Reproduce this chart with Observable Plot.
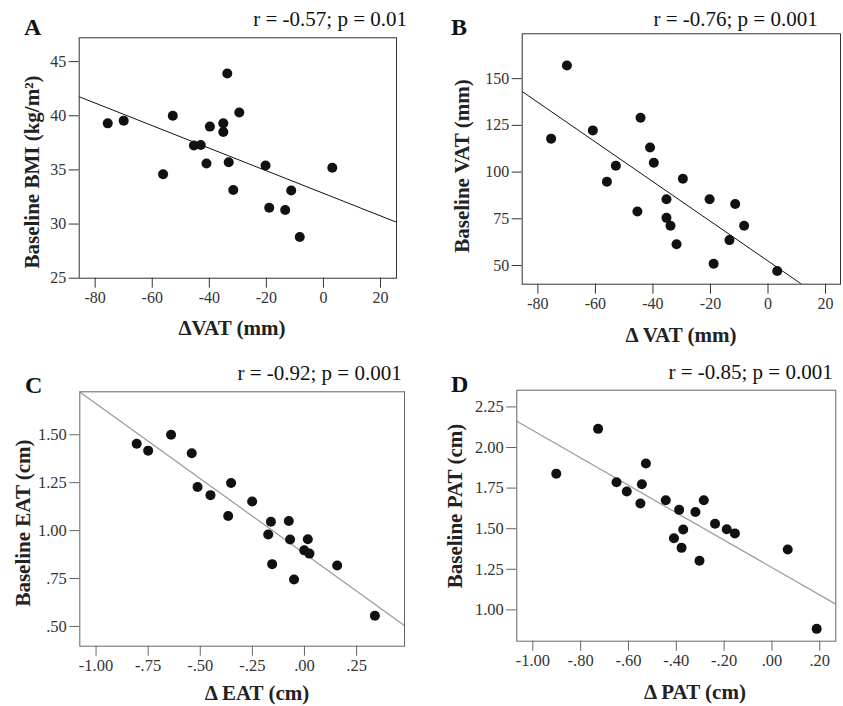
<!DOCTYPE html>
<html>
<head>
<meta charset="utf-8">
<script src="https://cdn.jsdelivr.net/npm/d3@7"></script>
<script src="https://cdn.jsdelivr.net/npm/@observablehq/plot@0.6"></script>
<style>
  html, body { margin: 0; padding: 0; background: #fff; }
  #root { position: relative; width: 843px; height: 706px; overflow: hidden; background: #fff; }
  .panel { position: absolute; }
  #overlay { position: absolute; left: 0; top: 0; pointer-events: none; }
</style>
</head>
<body>
<div id="root"></div>
<script>
// ---------- Data ----------
// Panel A: ΔVAT vs Baseline BMI
const aDeltaVAT = [-75.6, -70.0, -52.8, -56.2, -45.4, -43.0, -39.8, -41.0, -35.1, -35.1, -33.7, -33.2, -31.6, -29.5, -20.3, -19.0, -13.4, -11.3, -8.3, 3.1];
const aBaselineBMI = [39.3, 39.55, 40.0, 34.6, 37.25, 37.3, 39.0, 35.6, 39.3, 38.5, 43.9, 35.7, 33.15, 40.3, 35.4, 31.5, 31.3, 33.1, 28.8, 35.2];
const aXTicks = [-80, -60, -40, -20, 0, 20];
const aXTickLabels = ["-80", "-60", "-40", "-20", "0", "20"];
const aYTicks = [25, 30, 35, 40, 45];
const aYTickLabels = ["25", "30", "35", "40", "45"];

// Panel B: ΔVAT vs Baseline VAT
const bDeltaVAT = [-69.9, -75.4, -60.9, -44.3, -52.9, -56.0, -45.4, -41.0, -39.7, -35.3, -35.3, -33.9, -31.8, -29.6, -20.3, -18.9, -13.4, -11.4, -8.3, 3.2];
const bBaselineVAT = [157, 117.9, 122.3, 129.1, 103.4, 94.8, 78.9, 113.2, 105, 85.5, 75.5, 71.3, 61.4, 96.4, 85.5, 50.9, 63.6, 82.9, 71.3, 47.1];
const bXTicks = [-80, -60, -40, -20, 0, 20];
const bXTickLabels = ["-80", "-60", "-40", "-20", "0", "20"];
const bYTicks = [50, 75, 100, 125, 150];
const bYTickLabels = ["50", "75", "100", "125", "150"];

// Panel C: ΔEAT vs Baseline EAT
const cDeltaEAT = [-0.805, -0.750, -0.640, -0.541, -0.513, -0.451, -0.352, -0.366, -0.251, -0.161, -0.174, -0.155, -0.075, -0.069, -0.050, -0.001, 0.016, 0.024, 0.157, 0.338];
const cBaselineEAT = [1.453, 1.417, 1.500, 1.403, 1.227, 1.185, 1.248, 1.076, 1.152, 1.046, 0.980, 0.825, 1.050, 0.954, 0.745, 0.897, 0.955, 0.880, 0.818, 0.556];
const cXTicks = [-1.00, -0.75, -0.50, -0.25, 0.00, 0.25];
const cXTickLabels = ["-1.00", "-.75", "-.50", "-.25", ".00", ".25"];
const cYTicks = [0.50, 0.75, 1.00, 1.25, 1.50];
const cYTickLabels = [".50", ".75", "1.00", "1.25", "1.50"];

// Panel D: ΔPAT vs Baseline PAT
const dDeltaPAT = [-0.902, -0.727, -0.650, -0.607, -0.544, -0.550, -0.527, -0.444, -0.388, -0.410, -0.371, -0.378, -0.320, -0.285, -0.303, -0.238, -0.189, -0.155, 0.066, 0.187];
const dBaselinePAT = [1.839, 2.115, 1.786, 1.729, 1.774, 1.655, 1.901, 1.675, 1.616, 1.441, 1.495, 1.382, 1.603, 1.675, 1.302, 1.530, 1.497, 1.471, 1.372, 0.883];
const dXTicks = [-1.00, -0.80, -0.60, -0.40, -0.20, 0.00, 0.20];
const dXTickLabels = ["-1.00", "-.80", "-.60", "-.40", "-.20", ".00", ".20"];
const dYTicks = [1.00, 1.25, 1.50, 1.75, 2.00, 2.25];
const dYTickLabels = ["1.00", "1.25", "1.50", "1.75", "2.00", "2.25"];

// Text
const panelLetters = ["A", "B", "C", "D"];
const statTexts = ["r = -0.57; p = 0.01", "r = -0.76; p = 0.001", "r = -0.92; p = 0.001", "r = -0.85; p = 0.001"];
const yTitles = ["Baseline BMI (kg/m²)", "Baseline VAT (mm)", "Baseline EAT (cm)", "Baseline PAT (cm)"];
const xTitles = ["ΔVAT (mm)", "Δ VAT (mm)", "Δ EAT (cm)", "Δ PAT (cm)"];

// ---------- Layout ----------
const FONT = "'Liberation Serif', 'Times New Roman', serif";
const panels = [
  { left: 0, top: 0, width: 421, height: 353, ml: 78.7, mr: 25, mt: 37.3, mb: 75.3,
    x: aDeltaVAT, y: aBaselineBMI, xDomain: [-85.6, 25.6], yDomain: [25, 47.2],
    xTicks: aXTicks, xLabels: aXTickLabels, yTicks: aYTicks, yLabels: aYTickLabels,
    frame: "#333", line: "#111", lineWidth: 1, tickFont: 16,
    letter: [24, 35], stat: [407, 26], yTitle: [31.5, 172], xTitle: [232, 335] },
  { left: 421, top: 0, width: 422, height: 353, ml: 100.7, mr: 3, mt: 33.3, mb: 69.3,
    x: bDeltaVAT, y: bBaselineVAT, xDomain: [-85.45, 25.2], yDomain: [40, 174],
    xTicks: bXTicks, xLabels: bXTickLabels, yTicks: bYTicks, yLabels: bYTickLabels,
    frame: "#333", line: "#111", lineWidth: 1, tickFont: 16,
    letter: [451, 35], stat: [817.7, 26], yTitle: [462, 166], xTitle: [681, 342] },
  { left: 0, top: 353, width: 421, height: 353, ml: 79.3, mr: 17, mt: 38.3, mb: 60.3,
    x: cDeltaEAT, y: cBaselineEAT, xDomain: [-1.078, 0.48], yDomain: [0.397, 1.724],
    xTicks: cXTicks, xLabels: cXTickLabels, yTicks: cYTicks, yLabels: cYTickLabels,
    frame: "#666", line: "#999", lineWidth: 1.2, tickFont: 16.5,
    letter: [25, 393], stat: [401.7, 379.7], yTitle: [23, 523], xTitle: [257, 700] },
  { left: 421, top: 353, width: 422, height: 353, ml: 95.3, mr: 7.7, mt: 36.7, mb: 65.3,
    x: dDeltaPAT, y: dBaselinePAT, xDomain: [-1.067, 0.267], yDomain: [0.807, 2.353],
    xTicks: dXTicks, xLabels: dXTickLabels, yTicks: dYTicks, yLabels: dYTickLabels,
    frame: "#666", line: "#999", lineWidth: 1.2, tickFont: 16.5,
    letter: [451, 392], stat: [832.7, 379], yTitle: [455, 506], xTitle: [695, 699] }
];

const root = document.getElementById("root");

panels.forEach((p) => {
  const data = p.x.map((v, i) => ({ x: v, y: p.y[i] }));
  // least-squares fit computed from the data, drawn across the frame
  const mx = d3.mean(p.x), my = d3.mean(p.y);
  const slope = d3.sum(p.x, (v, i) => (v - mx) * (p.y[i] - my)) / d3.sum(p.x, (v) => (v - mx) ** 2);
  const fit = p.xDomain.map((v) => ({ x: v, y: my + slope * (v - mx) }));
  const xLab = new Map(p.xTicks.map((t, i) => [t, p.xLabels[i]]));
  const yLab = new Map(p.yTicks.map((t, i) => [t, p.yLabels[i]]));

  const chart = Plot.plot({
    width: p.width,
    height: p.height,
    marginLeft: p.ml,
    marginRight: p.mr,
    marginTop: p.mt,
    marginBottom: p.mb,
    x: { domain: p.xDomain },
    y: { domain: p.yDomain },
    style: { fontFamily: FONT, fontSize: p.tickFont + "px", color: "#333", background: "transparent", overflow: "visible" },
    marks: [
      Plot.axisX({ ticks: p.xTicks, tickFormat: (d) => xLab.get(d), tickSize: 10, tickPadding: 3, label: null, stroke: p.frame, fill: "#333" }),
      Plot.axisY({ ticks: p.yTicks, tickFormat: (d) => yLab.get(d), tickSize: 10, tickPadding: 3, label: null, stroke: p.frame, fill: "#333" }),
      Plot.line(fit, { x: "x", y: "y", stroke: p.line, strokeWidth: p.lineWidth, clip: true }),
      Plot.dot(data, { x: "x", y: "y", r: 5, fill: "#111", stroke: "none" }),
      Plot.frame({ stroke: p.frame, strokeWidth: 1 })
    ]
  });
  const div = document.createElement("div");
  div.className = "panel";
  div.style.left = p.left + "px";
  div.style.top = p.top + "px";
  div.appendChild(chart);
  root.appendChild(div);
});

// ---------- Annotation overlay (panel letters, statistics, axis titles) ----------
const svg = d3.select(root).append("svg")
  .attr("id", "overlay")
  .attr("width", 843)
  .attr("height", 706)
  .style("font-family", FONT);

panels.forEach((p, i) => {
  svg.append("text")
    .attr("x", p.letter[0]).attr("y", p.letter[1])
    .attr("font-size", 24).attr("font-weight", "bold").attr("fill", "#111")
    .text(panelLetters[i]);
  svg.append("text")
    .attr("x", p.stat[0]).attr("y", p.stat[1])
    .attr("text-anchor", "end")
    .attr("font-size", 21).attr("fill", "#111")
    .text(statTexts[i]);
  svg.append("text")
    .attr("transform", `translate(${p.yTitle[0]},${p.yTitle[1]}) rotate(-90)`)
    .attr("text-anchor", "middle")
    .attr("dy", "0.35em")
    .attr("font-size", 21).attr("font-weight", "bold").attr("fill", "#222")
    .text(yTitles[i]);
  svg.append("text")
    .attr("x", p.xTitle[0]).attr("y", p.xTitle[1])
    .attr("text-anchor", "middle")
    .attr("font-size", 21).attr("font-weight", "bold").attr("fill", "#222")
    .text(xTitles[i]);
});
</script>
</body>
</html>
